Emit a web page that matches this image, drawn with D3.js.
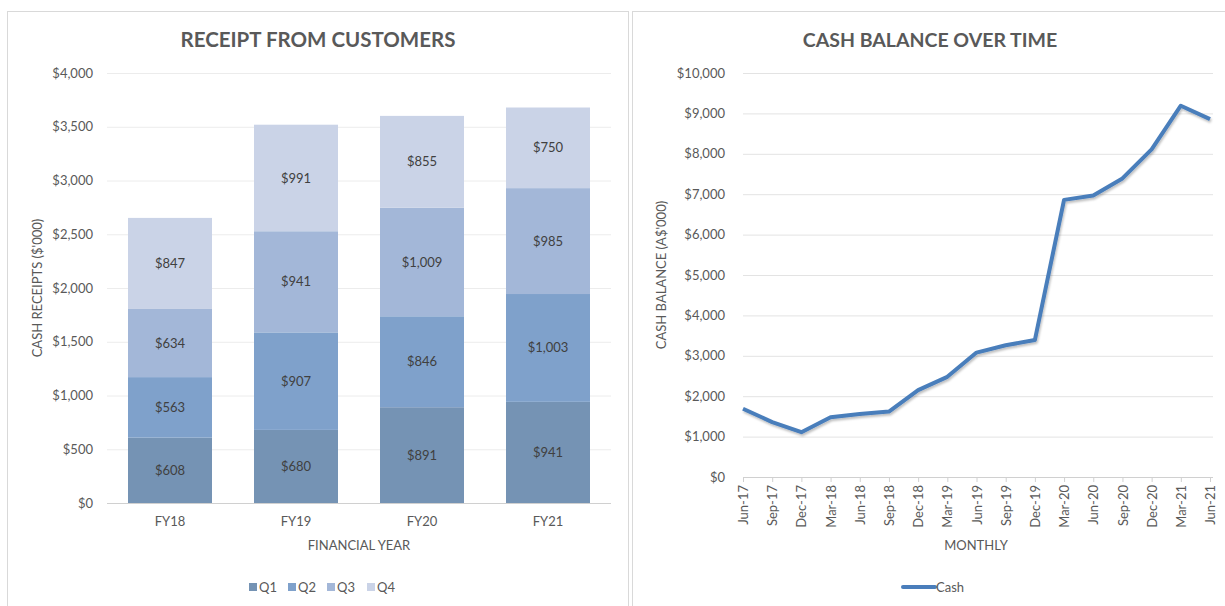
<!DOCTYPE html>
<html><head><meta charset="utf-8">
<script src="https://cdn.jsdelivr.net/npm/d3@7"></script>
<style>
html,body{margin:0;padding:0;background:#fff;}
svg{display:block;font-family:Lato,"Open Sans",sans-serif;}
</style></head>
<body>
<svg id="c" width="1225" height="606"></svg>
<script>
// ---- data ----
const years = ["FY18","FY19","FY20","FY21"];
const quarters = ["Q1","Q2","Q3","Q4"];
const q1 = [608,680,891,941];
const q2 = [563,907,846,1003];
const q3 = [634,941,1009,985];
const q4 = [847,991,855,750];
const barTicks = [0,500,1000,1500,2000,2500,3000,3500,4000];
const quarterColors = ["#7593b4","#7fa1cb","#a3b7d8","#cad3e7"];

const months = ["Jun-17","Sep-17","Dec-17","Mar-18","Jun-18","Sep-18","Dec-18","Mar-19","Jun-19","Sep-19","Dec-19","Mar-20","Jun-20","Sep-20","Dec-20","Mar-21","Jun-21"];
const cash = [1690,1360,1110,1480,1560,1620,2150,2480,3080,3260,3390,6860,6970,7390,8110,9190,8860];
const cashTicks = [0,1000,2000,3000,4000,5000,6000,7000,8000,9000,10000];

const svg = d3.select("#c");
const txt = "#595959";
const fmt = d => "$" + d3.format(",")(d);

// panels
svg.append("rect").attr("x",7.5).attr("y",11.5).attr("width",621).attr("height",600).attr("fill","#fff").attr("stroke","#d9d9d9");
svg.append("rect").attr("x",632.5).attr("y",11.5).attr("width",600).attr("height",600).attr("fill","#fff").attr("stroke","#d9d9d9");

// ===== Left: stacked bars =====
(function(){
  const L=107,R=611,T=73,B=503;
  const x = d3.scaleBand().domain(years).range([L,R]).paddingInner(1/3).paddingOuter(1/6);
  const y = d3.scaleLinear().domain([0,4000]).range([B,T]);
  const g = svg.append("g");
  const ax = g.append("g").attr("transform",`translate(${L},0)`)
    .call(d3.axisLeft(y).tickValues(barTicks).tickFormat(fmt).tickSize(-(R-L)).tickPadding(14));
  ax.select(".domain").remove();
  ax.selectAll(".tick line").attr("stroke",d=>d===0?"#d0d0d0":"#ececec");
  ax.selectAll(".tick text").attr("fill",txt).style("font-size","13px").style("font-family","Lato");
  const rows = years.map((yr,i)=>({yr, Q1:q1[i],Q2:q2[i],Q3:q3[i],Q4:q4[i]}));
  const stack = d3.stack().keys(quarters)(rows);
  stack.forEach((s,k)=>{
    const sg = g.append("g");
    sg.selectAll("rect").data(s).join("rect")
      .attr("x",d=>x(d.data.yr)).attr("width",x.bandwidth())
      .attr("y",d=>y(d[1])).attr("height",d=>y(d[0])-y(d[1]))
      .attr("fill",quarterColors[k]);
    sg.selectAll("text").data(s).join("text")
      .attr("x",d=>x(d.data.yr)+x.bandwidth()/2).attr("y",d=>(y(d[0])+y(d[1]))/2)
      .attr("dy","0.35em").attr("text-anchor","middle")
      .attr("fill","#404040").style("font-size","13px")
      .text(d=>fmt(d[1]-d[0]));
  });
  const xa = g.append("g").attr("transform",`translate(0,${B})`).call(d3.axisBottom(x).tickSize(0).tickPadding(14));
  xa.select(".domain").remove();
  xa.selectAll("text").attr("fill",txt).style("font-size","13px").style("font-family","Lato");
  g.append("text").attr("x",(L+R)/2).attr("y",550).attr("text-anchor","middle").attr("fill",txt).style("font-size","13px").text("FINANCIAL YEAR");
  g.append("text").attr("transform",`translate(42,${(T+B)/2}) rotate(-90)`).attr("text-anchor","middle").attr("fill",txt).style("font-size","13px").text("CASH RECEIPTS ($'000)");
  g.append("text").attr("x",318).attr("y",47).attr("text-anchor","middle").attr("fill",txt).style("font-size","20.5px").style("font-weight","bold").text("RECEIPT FROM CUSTOMERS");
  const lx = [249,288,327,367];
  const lg = g.append("g");
  quarters.forEach((q,k)=>{
    lg.append("rect").attr("x",lx[k]).attr("y",583).attr("width",8).attr("height",8).attr("fill",quarterColors[k]);
    lg.append("text").attr("x",lx[k]+10).attr("y",587).attr("dy","0.35em").attr("fill",txt).style("font-size","13px").text(q);
  });
})();

// ===== Right: line =====
(function(){
  const L=743,R=1210,T=73,B=477;
  const x = d3.scalePoint().domain(months).range([L,R]);
  const y = d3.scaleLinear().domain([0,10000]).range([B,T]);
  const g = svg.append("g");
  const ax = g.append("g").attr("transform",`translate(${L},0)`)
    .call(d3.axisLeft(y).tickValues(cashTicks).tickFormat(fmt).tickSize(-(R-L+3)).tickPadding(18));
  ax.select(".domain").remove();
  ax.selectAll(".tick line").attr("stroke","#e3e3e3");
  ax.selectAll(".tick text").attr("fill",txt).style("font-size","13px").style("font-family","Lato");
  const xa = g.append("g").attr("transform",`translate(0,${B})`).call(d3.axisBottom(x).tickSize(5).tickPadding(6));
  xa.select(".domain").attr("stroke","#d0d0d0").attr("d",`M${L},0.5H${R+3}`);
  xa.selectAll(".tick line").attr("stroke","#d0d0d0");
  xa.selectAll("text").attr("fill",txt).style("font-size","13px").style("font-family","Lato")
    .attr("text-anchor","end").attr("transform","rotate(-90)").attr("x",-8).attr("y",0).attr("dy","0.35em");
  const defs = svg.append("defs");
  const f = defs.append("filter").attr("id","sh").attr("x","-10%").attr("y","-10%").attr("width","120%").attr("height","130%");
  f.append("feDropShadow").attr("dx",1).attr("dy",2).attr("stdDeviation",1.2).attr("flood-color","#000").attr("flood-opacity",0.25);
  const line = d3.line().x((d,i)=>x(months[i])).y(d=>y(d));
  g.append("path").datum(cash).attr("d",line).attr("fill","none").attr("stroke","#4a7ebb").attr("stroke-width",4).attr("stroke-linejoin","round").attr("filter","url(#sh)");
  g.append("text").attr("x",976).attr("y",550).attr("text-anchor","middle").attr("fill",txt).style("font-size","13px").text("MONTHLY");
  g.append("text").attr("transform",`translate(666,${(T+B)/2}) rotate(-90)`).attr("text-anchor","middle").attr("fill",txt).style("font-size","13px").text("CASH BALANCE (A$'000)");
  g.append("text").attr("x",930).attr("y",47).attr("text-anchor","middle").attr("fill",txt).style("font-size","19.5px").style("font-weight","bold").text("CASH BALANCE OVER TIME");
  g.append("line").attr("x1",903).attr("x2",935).attr("y1",587).attr("y2",587).attr("stroke","#4a7ebb").attr("stroke-width",4).attr("stroke-linecap","round");
  g.append("text").attr("x",936).attr("y",587).attr("dy","0.35em").attr("fill",txt).style("font-size","13px").text("Cash");
})();
</script>
</body></html>
